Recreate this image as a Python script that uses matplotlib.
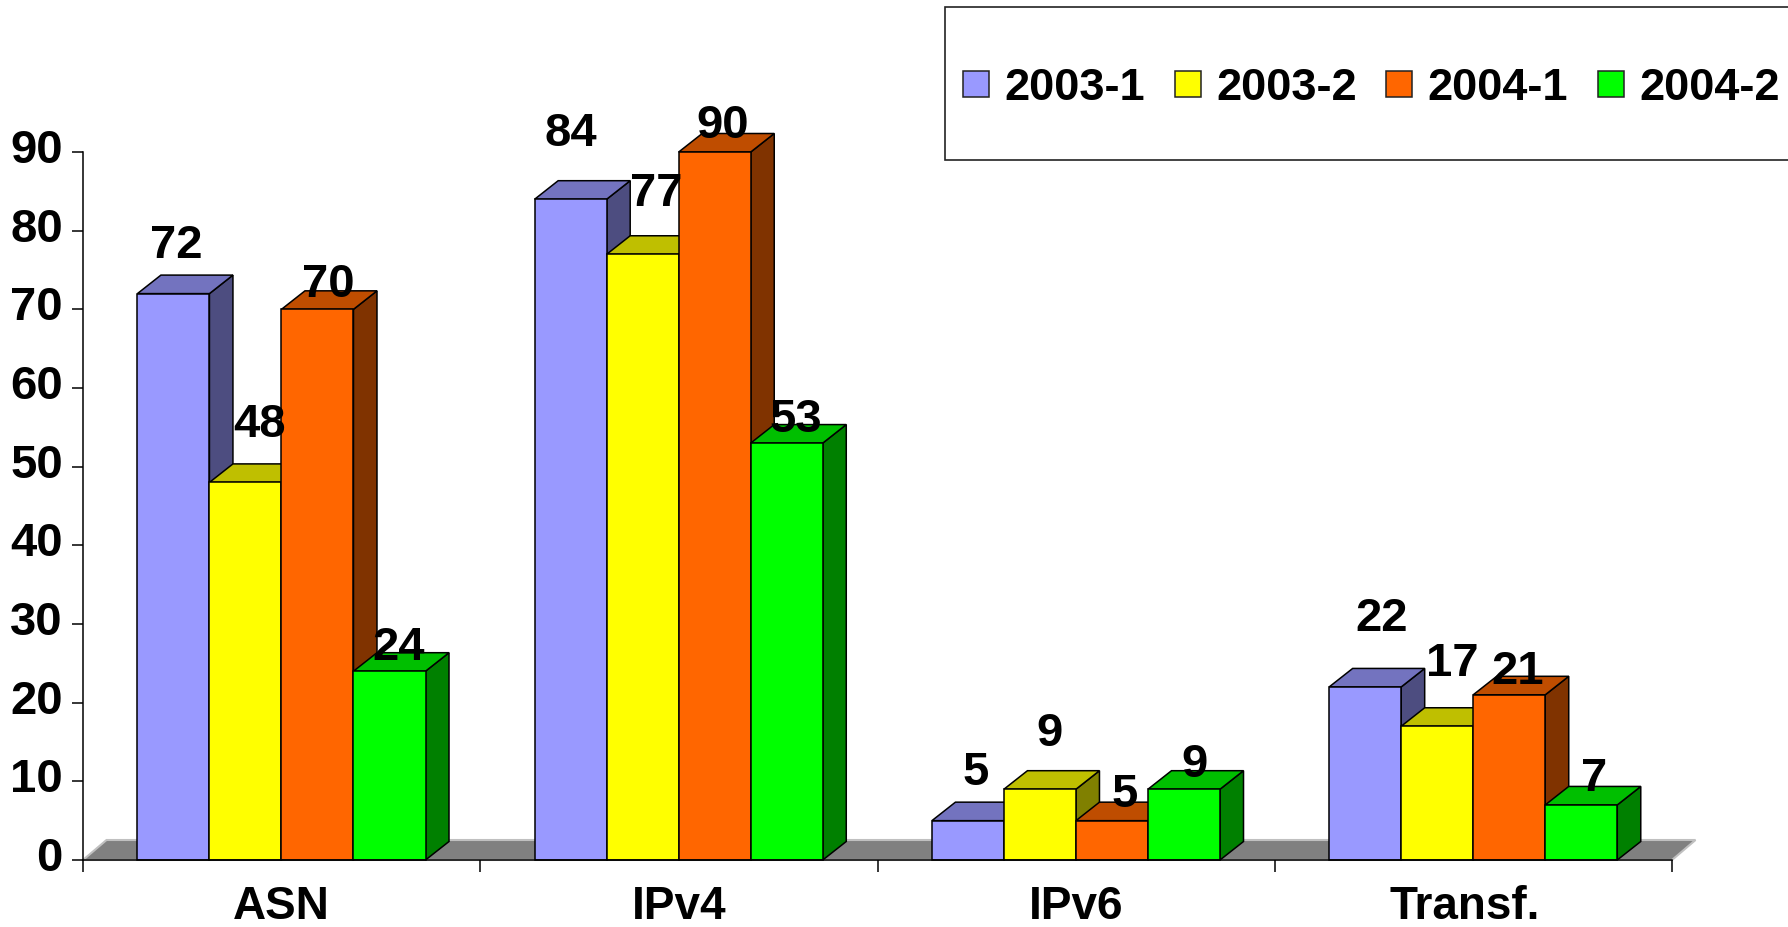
import matplotlib
matplotlib.use('Agg')
import matplotlib.pyplot as plt
from matplotlib.patches import Polygon, Rectangle
from matplotlib.transforms import ScaledTranslation
import numpy as np

categories = ['ASN', 'IPv4', 'IPv6', 'Transf.']
series_names = ['2003-1', '2003-2', '2004-1', '2004-2']
values_2003_1 = [72, 84, 5, 22]
values_2003_2 = [48, 77, 9, 17]
values_2004_1 = [70, 90, 5, 21]
values_2004_2 = [24, 53, 9, 7]
y_ticks = list(range(0, 100, 10))

front_colors = ['#9999FF', '#FFFF00', '#FF6600', '#00FF00']
top_colors = ['#7373BF', '#BFBF00', '#BF4D00', '#00BF00']
side_colors = ['#4D4D80', '#808000', '#803300', '#008000']

# hand placed label offsets in pixels, one row per category
label_dx = [[3, 14, 11, 9], [0, 14, 8, 9], [8, 10, 13, 11], [16, 15, 8, 13]]
label_dy = [[48, 57, 24, 23], [65, 60, 26, 23], [48, 55, 26, 24], [68, 62, 23, 26]]
# the Transf. label sits a little left of its group in the original
xlabel_shift = [0, 0, 0, -9]

W, H = 1788, 927
AX_LEFT, AX_RIGHT, AX_BOTTOM, AX_TOP = 83, 1672, 860, 152
BAR_W = 0.1813
GROUP_OFFSET = 0.137

plt.rcParams['font.family'] = ['Liberation Sans', 'DejaVu Sans']
plt.rcParams['font.weight'] = 'bold'
FONT_SIZE = 34
XLABEL_FONT_SIZE = 33
LEGEND_FONT_SIZE = 32.5


def draw_bar(ax, x, value, s, depth_x, depth_y):
    x1 = x + BAR_W
    edge = dict(edgecolor='black', linewidth=1.1, clip_on=False, zorder=3)
    ax.add_patch(Polygon([(x1, 0), (x1 + depth_x, depth_y), (x1 + depth_x, value + depth_y), (x1, value)],
                         facecolor=side_colors[s], **edge))
    ax.add_patch(Polygon([(x, value), (x + depth_x, value + depth_y), (x1 + depth_x, value + depth_y), (x1, value)],
                         facecolor=top_colors[s], **edge))
    ax.add_patch(Rectangle((x, 0), BAR_W, value, facecolor=front_colors[s], **edge))


def draw_legend(fig):
    box = Rectangle((945 / W, 1 - 160 / H), 860 / W, 153 / H, transform=fig.transFigure,
                    facecolor='white', edgecolor='#222222', linewidth=1.2)
    fig.add_artist(box)
    swatch_x = [963, 1175, 1386, 1598]
    for s, name in enumerate(series_names):
        fig.add_artist(Rectangle((swatch_x[s] / W, 1 - 97 / H), 26 / W, 26 / H, transform=fig.transFigure,
                                 facecolor=front_colors[s], edgecolor='#222222', linewidth=1.1))
        fig.text((swatch_x[s] + 41) / W, 1 - 89 / H, name, fontsize=LEGEND_FONT_SIZE, fontweight='bold',
                 ha='left', va='center', color='black')


def main():
    all_values = np.array([values_2003_1, values_2003_2, values_2004_1, values_2004_2])

    fig = plt.figure(figsize=(W / 100, H / 100), dpi=100)
    ax = fig.add_axes([AX_LEFT / W, 1 - AX_BOTTOM / H, (AX_RIGHT - AX_LEFT) / W, (AX_BOTTOM - AX_TOP) / H])
    ax.set_xlim(0, len(categories))
    ax.set_ylim(0, 90)

    px_x = len(categories) / (AX_RIGHT - AX_LEFT)
    px_y = 90 / (AX_BOTTOM - AX_TOP)
    depth_x, depth_y = 23.5 * px_x, 18.5 * px_y

    # grey floor behind the bars
    n = len(categories)
    ax.add_patch(Polygon([(0, 0), (depth_x, 20 * px_y), (n + depth_x, 20 * px_y), (n, 0)],
                         facecolor='#808080', edgecolor='#C0C0C0', linewidth=1.5, clip_on=False, zorder=1))

    for c in range(n):
        for s in range(len(series_names)):
            x = c + GROUP_OFFSET + s * BAR_W
            draw_bar(ax, x, all_values[s, c], s, depth_x, depth_y)
            ax.annotate(str(all_values[s, c]), (x + BAR_W / 2, all_values[s, c]),
                        xytext=(label_dx[c][s], label_dy[c][s]), textcoords='offset pixels',
                        ha='center', va='center', fontsize=FONT_SIZE, fontweight='bold',
                        annotation_clip=False, zorder=10)

    ax.spines['top'].set_visible(False)
    ax.spines['right'].set_visible(False)
    ax.spines['left'].set_zorder(4)
    ax.spines['bottom'].set_zorder(4)
    for side in ['left', 'bottom']:
        ax.spines[side].set_linewidth(1.1)

    ax.set_yticks(y_ticks)
    ax.tick_params(axis='y', length=8, width=1.1, pad=6.5, labelsize=FONT_SIZE)
    ax.set_xticks(np.arange(n + 1))
    ax.set_xticklabels([])
    ax.tick_params(axis='x', which='major', length=8.5, width=1.1)
    ax.set_xticks(np.arange(n) + GROUP_OFFSET + 2 * BAR_W, minor=True)
    ax.set_xticklabels(categories, minor=True, fontsize=XLABEL_FONT_SIZE, fontweight='bold')
    ax.tick_params(axis='x', which='minor', length=0, pad=18)
    ax.patch.set_visible(False)

    # the y labels ride slightly above their ticks
    for label in ax.get_yticklabels():
        label.set_transform(label.get_transform() + ScaledTranslation(0, 6 / 100, fig.dpi_scale_trans))
    for label, shift in zip(ax.get_xticklabels(minor=True), xlabel_shift):
        label.set_transform(label.get_transform() + ScaledTranslation(shift / 100, 0, fig.dpi_scale_trans))

    draw_legend(fig)
    fig.savefig('out.png', dpi=100, facecolor='white')


main()
